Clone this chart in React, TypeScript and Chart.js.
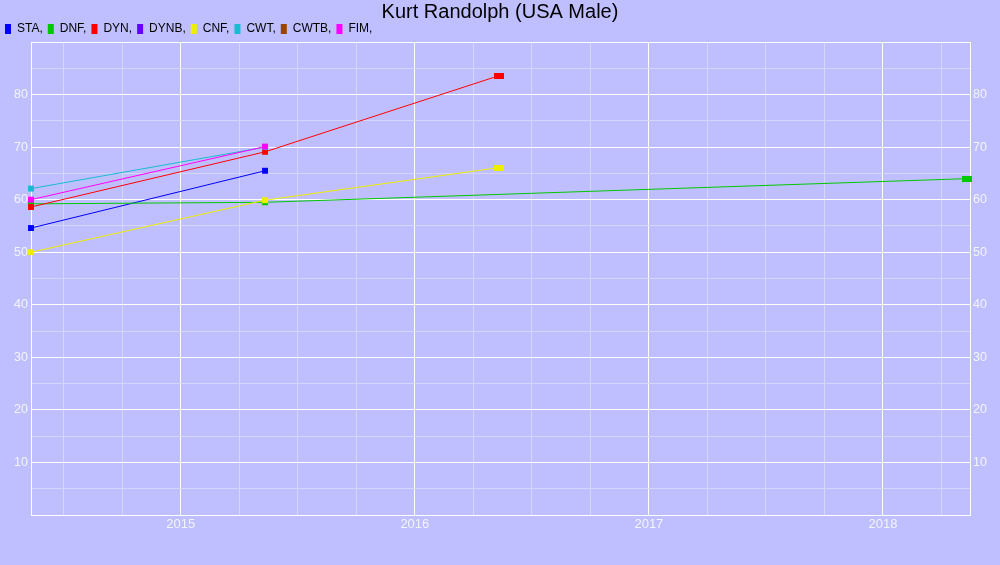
import { useEffect, useRef } from "react"
import { Chart, registerables } from "chart.js"

Chart.register(...registerables)

// dates of the results, as decimal years
const dates = [2014.36, 2015.36, 2016.36, 2018.36]

const seriesNames = ["STA", "DNF", "DYN", "DYNB", "CNF", "CWT", "CWTB", "FIM"]
const seriesColors = ["#0000ff", "#00c800", "#ff0000", "#6600ff", "#eeee00", "#18bcd0", "#994400", "#ff00ff"]

const sta = [54.6, 65.5, null, null]
const dnf = [59.2, 59.5, null, 64.0]
const dyn = [58.6, 69.1, 83.6, null]
const dynb = [null, null, null, null]
const cnf = [50.0, 59.9, 66.1, null]
const cwt = [62.1, 70.0, null, null]
const cwtb = [null, null, null, null]
const fim = [60.0, 70.1, null, null]

const seriesValues = [sta, dnf, dyn, dynb, cnf, cwt, cwtb, fim]

const yearTicks = [2015, 2016, 2017, 2018]

const FONT = "'Liberation Sans', Arial, sans-serif"

function wideMarker(color: string) {
  const c = document.createElement("canvas")
  c.width = 10
  c.height = 6
  const g = c.getContext("2d")
  if (g) {
    g.fillStyle = color
    g.fillRect(0, 0, 10, 6)
  }
  return c
}

const isWhole = (v: number) => Math.abs(v - Math.round(v)) < 1e-6

export default function App() {
  const chartRef = useRef<HTMLCanvasElement>(null)
  const chartInstance = useRef<Chart | null>(null)

  useEffect(() => {
    document.body.style.margin = "0"
    if (!chartRef.current) return
    if (chartInstance.current) chartInstance.current.destroy()

    const datasets = seriesNames.map((name, i) => {
      const pts: { x: number; y: number }[] = []
      seriesValues[i].forEach((v, j) => {
        if (v !== null) pts.push({ x: dates[j], y: v as number })
      })
      const wide = wideMarker(seriesColors[i])
      return {
        label: name,
        data: pts,
        borderColor: seriesColors[i],
        backgroundColor: seriesColors[i],
        borderWidth: 1,
        pointRadius: 4.2,
        pointBorderWidth: 0,
        pointStyle: (ctx: any) => (ctx.dataIndex >= 2 ? wide : "rect"),
        tension: 0,
        clip: false as any,
        order: seriesNames.length - i,
      }
    })

    const ctx = chartRef.current.getContext("2d")
    if (!ctx) return
    chartInstance.current = new Chart(ctx, {
      type: "line",
      data: { datasets },
      options: {
        animation: false,
        responsive: true,
        maintainAspectRatio: false,
        layout: { padding: 0 },
        plugins: {
          title: {
            display: true,
            text: "Kurt Randolph (USA Male)",
            color: "#000",
            font: { family: FONT, size: 20, weight: "normal", lineHeight: 1 },
            padding: { top: 2, bottom: -4 },
          },
          legend: {
            position: "top",
            align: "start",
            maxHeight: 24,
            labels: {
              color: "#000",
              font: { family: FONT, size: 12 },
              boxWidth: 6,
              boxHeight: 10,
              padding: 5,
              generateLabels: (chart) =>
                chart.data.datasets.map((ds: any, i) => ({
                  text: ds.label + ",",
                  fillStyle: ds.borderColor,
                  strokeStyle: ds.borderColor,
                  lineWidth: 0,
                  hidden: false,
                  datasetIndex: i,
                  fontColor: "#000",
                })),
            },
          },
          tooltip: { enabled: false },
        },
        scales: {
          x: {
            type: "linear",
            min: 2014.36,
            max: 2018.372,
            afterFit: (s: any) => {
              s.height = 50
            },
            ticks: {
              stepSize: 0.25,
              includeBounds: false,
              autoSkip: false,
              maxRotation: 0,
              color: "#f4f4ff",
              padding: 2,
              font: { family: FONT, size: 13 },
              callback: (v: any) => {
                const y = yearTicks.find((t) => Math.abs(t - Number(v)) < 1e-6)
                return y !== undefined ? String(y) : ""
              },
            },
            grid: {
              color: (c: any) => (isWhole(c.tick.value) ? "#ffffff" : "#d6d6fa"),
              lineWidth: 1,
              drawTicks: false,
            },
            border: { color: "#ffffff", width: 1 },
          },
          y: {
            position: "left",
            min: 0,
            max: 90,
            afterFit: (s: any) => {
              s.width = 31
            },
            ticks: {
              stepSize: 5,
              color: "#f4f4ff",
              padding: 3,
              font: { family: FONT, size: 12.5 },
              callback: (v: any) => (v % 10 === 0 && v > 0 && v < 90 ? String(v) : ""),
            },
            grid: {
              color: (c: any) => (c.tick.value % 10 === 0 ? "#ffffff" : "#d6d6fa"),
              lineWidth: 1,
              drawTicks: false,
            },
            border: { color: "#ffffff", width: 1 },
          },
          y2: {
            position: "right",
            min: 0,
            max: 90,
            afterFit: (s: any) => {
              s.width = 30
            },
            ticks: {
              stepSize: 5,
              color: "#f4f4ff",
              padding: 3,
              font: { family: FONT, size: 12.5 },
              callback: (v: any) => (v % 10 === 0 && v > 0 && v < 90 ? String(v) : ""),
            },
            grid: { display: false, drawTicks: false },
            border: { color: "#ffffff", width: 1 },
          },
        },
      },
    })

    return () => {
      if (chartInstance.current) {
        chartInstance.current.destroy()
        chartInstance.current = null
      }
    }
  }, [])

  return (
    <div style={{ position: "fixed", left: 0, top: 0, width: 1000, height: 565, background: "#bfbfff" }}>
      <canvas ref={chartRef} />
    </div>
  )
}
